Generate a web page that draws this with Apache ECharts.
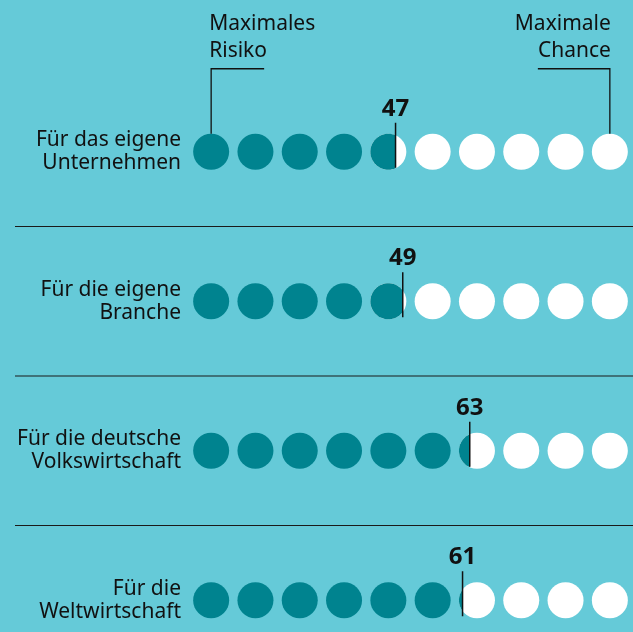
<!DOCTYPE html>
<html>
<head>
<meta charset="utf-8">
<script src="https://cdn.jsdelivr.net/npm/echarts@6/dist/echarts.min.js"></script>
<style>
html, body { margin: 0; padding: 0; background: #65cad8; }
#main { width: 633px; height: 632px; }
</style>
</head>
<body>
<div id="main"></div>
<script>
// Zeilen und Werte (0 = maximales Risiko, 100 = maximale Chance)
var rows = ['Für das eigene\nUnternehmen', 'Für die eigene\nBranche', 'Für die deutsche\nVolkswirtschaft', 'Für die\nWeltwirtschaft'];
var scores = [47, 49, 63, 61];
var dotCount = 10;
var scaleEnds = ['Maximales\nRisiko', 'Maximale\nChance'];

var DARK = '#00838f';
var INK = '#111111';
var FONT = '"Noto Sans", sans-serif';

var myChart = echarts.init(document.getElementById('main'));

var renderRow = function (params, api) {
    var v = api.value(0);
    var row = api.value(1);
    var yc = api.coord([0, row])[1];
    var band = api.size([0, 1])[1];
    var unit = 100 / dotCount;
    var r = 18;
    var children = [];
    var full = Math.floor(v / unit);
    var frac = (v - full * unit) / unit;
    var bx = 0;

    for (var k = 0; k < dotCount; k++) {
        var cx = api.coord([k * unit + unit / 2, row])[0];
        if (k < full) {
            children.push({ type: 'circle', shape: { cx: cx, cy: yc, r: r }, style: { fill: DARK } });
        } else {
            children.push({ type: 'circle', shape: { cx: cx, cy: yc, r: r }, style: { fill: '#ffffff' } });
        }
        if (k === full) {
            bx = cx - r + frac * 2 * r;
            if (frac > 0) {
                var t0 = Math.acos((bx - cx) / r);
                var pts = [];
                var n = 40;
                for (var j = 0; j <= n; j++) {
                    var a = t0 + (2 * Math.PI - 2 * t0) * j / n;
                    pts.push([cx + r * Math.cos(a), yc - r * Math.sin(a)]);
                }
                children.push({ type: 'polygon', shape: { points: pts }, style: { fill: DARK } });
            }
        }
    }

    // Markierung + Wert
    children.push({ type: 'line', shape: { x1: bx, y1: yc - 29, x2: bx, y2: yc + 16 }, style: { stroke: INK, lineWidth: 1.5 } });
    children.push({
        type: 'text',
        style: { text: String(v), x: bx, y: yc - 31, align: 'center', verticalAlign: 'bottom', fill: INK, fontSize: 24, fontWeight: 'bold', fontFamily: FONT }
    });

    // Trennlinie
    if (params.dataIndex < rows.length - 1) {
        var ys = yc + band / 2;
        children.push({ type: 'line', shape: { x1: 15, y1: ys, x2: 633, y2: ys }, style: { stroke: '#1a1a1a', lineWidth: 1.2 } });
    }

    // Skalenenden
    if (params.dataIndex === 0) {
        var xL = api.coord([unit / 2, row])[0];
        var xR = api.coord([100 - unit / 2, row])[0];
        var yh = yc - 83;
        children.push({ type: 'polyline', shape: { points: [[xL + 53, yh], [xL, yh], [xL, yc - r]] }, style: { stroke: INK, lineWidth: 1.3, fill: null } });
        children.push({ type: 'polyline', shape: { points: [[xR - 72, yh], [xR, yh], [xR, yc - r]] }, style: { stroke: INK, lineWidth: 1.3, fill: null } });
        children.push({
            type: 'text',
            style: { text: scaleEnds[0], x: xL - 2, y: yh - 4, align: 'left', verticalAlign: 'bottom', fill: INK, fontSize: 21, lineHeight: 27, fontFamily: FONT }
        });
        children.push({
            type: 'text',
            style: { text: scaleEnds[1], x: xR + 1, y: yh - 4, align: 'right', verticalAlign: 'bottom', fill: INK, fontSize: 21, lineHeight: 27, fontFamily: FONT }
        });
    }

    return { type: 'group', children: children };
};

var option = {
    backgroundColor: '#65cad8',
    animation: false,
    grid: { left: 189, top: 77, width: 443, height: 598, outerBoundsMode: 'none', containLabel: false },
    xAxis: {
        type: 'value',
        min: 0,
        max: 100,
        show: false
    },
    yAxis: {
        type: 'category',
        data: rows,
        inverse: true,
        axisLine: { show: false },
        axisTick: { show: false },
        splitLine: { show: false },
        axisLabel: {
            margin: 8,
            color: INK,
            fontSize: 21,
            lineHeight: 23,
            fontFamily: FONT,
            align: 'right'
        }
    },
    series: [{
        type: 'custom',
        clip: false,
        renderItem: renderRow,
        encode: { x: 0, y: 1 },
        data: scores.map(function (v, i) { return [v, i]; })
    }]
};
myChart.setOption(option);
</script>
</body>
</html>
